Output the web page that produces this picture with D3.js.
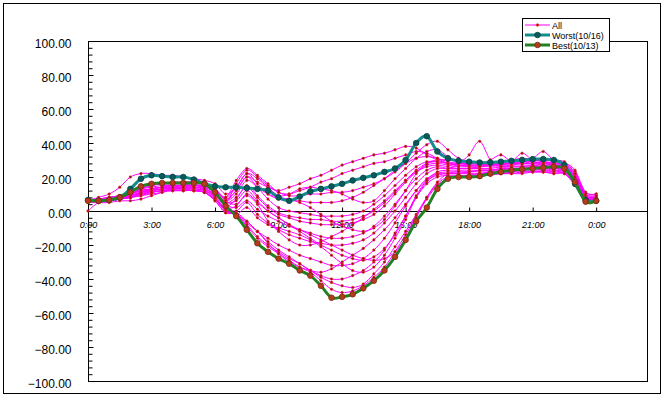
<!DOCTYPE html>
<html>
<head>
<meta charset="utf-8">
<script src="https://cdn.jsdelivr.net/npm/d3@7"></script>
<style>
  body { margin: 0; background: #fff; }
  text { font-family: Arial, "Liberation Sans", sans-serif; }
</style>
</head>
<body>
<div class="chart"></div>
<script>
// time of day in hours, one reading every 30 minutes
var hours = [0,0.5,1,1.5,2,2.5,3,3.5,4,4.5,5,5.5,
  6,6.5,7,7.5,8,8.5,9,9.5,10,10.5,11,11.5,
  12,12.5,13,13.5,14,14.5,15,15.5,16,16.5,17,17.5,
  18,18.5,19,19.5,20,20.5,21,21.5,22,22.5,23,23.5,24];

var xTickValues = [0,3,6,9,12,15,18,21,24];
var xTickLabels = ["0:00","3:00","6:00","9:00","12:00","15:00","18:00","21:00","0:00"];
var yTickValues = [-100,-80,-60,-40,-20,0,20,40,60,80,100];

var worst = [6.5,6,6.5,8,13,19,21,20.5,20,20,18.5,16,
  14.5,14,14,13.5,13,12,8,6,8.5,11.5,13,14.5,
  16,18,19.5,21,23,25,30,40,44,35,31,29.5,
  29,28.5,28.5,29,29.5,30,30.5,30.5,30,27,16,6.5,6];

var best = [6,6,6.5,8,11,14.5,16,16.5,16.5,16.5,16.5,16,
  11,3,-3,-11,-19,-24,-28,-31,-35,-38,-44,-51,
  -50.5,-49,-45.5,-41,-35,-27,-17,-6,2,13,19,20,
  20,20.5,22,23,24,24.5,25,25.5,26,25,17,5.5,6];

// every other day ("All")
var allDays = [
  [6,7,8,9,11,13,14,15,15,15,14,13, 10,6,12,20,17,14,12,14,16,19,21,24,
   27,29,31,33,34,36,38,37,33,30,28,27, 27,27,28,28,29,34,30,30,29,27,20,9, 8],
  [6,6,7,9,12,15,16,16,16,17,17,16, 13,8,18,25,21,16,11,10,12,14,17,19,
   22,24,26,28,29,31,33,35,34,31,28,27, 26,26,27,27,28,28,28,29,28,26,18,8, 7],
  [6,8,10,14,20,22,22,21,21,20,19,18, 16,10,14,22,19,14,9,10,13,14,13,12,
   10,7,5,6,12,19,25,31,35,36,32,29, 28,28,30,33,29,29,30,29,28,27,22,10, 9],
  [6,6,7,8,9,11,12,13,13,13,13,12, 9,5,16,24,20,15,11,9,9,10,10,11,
   11,12,14,16,19,23,28,34,39,41,36,31, 29,28,28,28,29,30,30,29,28,28,24,11, 10],
  [7,7,8,9,10,12,13,14,14,15,15,14, 11,6,10,18,14,10,8,7,5,2,-2,-6,
   -9,-11,-12,-10,-5,3,12,22,28,30,30,29, 28,28,27,28,28,29,29,28,28,27,23,9, 8],
  [6,6,6,7,9,11,13,14,15,15,15,14, 12,7,12,20,14,7,2,0,-1,-2,-3,-3,
   -3,-2,0,4,9,15,21,26,29,29,28,27, 27,27,27,28,28,28,29,28,27,26,20,8, 7],
  [6,5,5,6,6,7,9,11,13,14,15,15, 11,3,7,15,9,3,-1,-3,-4,-5,-5,-6,
   -6,-5,-3,0,5,11,18,24,28,29,28,28, 27,27,27,27,28,28,28,28,27,26,22,11, 10],
  [6,6,7,8,10,13,15,16,16,16,15,14, 11,5,8,14,8,2,-2,-4,-6,-7,-8,-8,
   -8,-7,-5,-2,3,10,17,23,27,28,27,26, 26,26,27,27,27,28,28,27,27,26,21,9, 8],
  [5,5,6,7,9,11,13,14,15,15,15,15, 12,6,4,9,4,-6,-12,-17,-20,-20,-18,-15,
   -12,-8,-4,1,6,12,18,23,26,27,26,25, 25,26,26,26,27,27,27,27,26,25,19,8, 7],
  [0,5,6,7,8,10,12,13,14,14,14,13, 10,4,2,6,1,-3,-6,-9,-11,-13,-15,-16,
   -16,-15,-13,-9,-3,4,12,19,24,26,25,25, 25,25,25,26,26,26,27,26,26,25,20,9, 8],
  [6,7,8,9,10,12,13,14,14,14,14,13, 9,3,0,5,-2,-7,-11,-14,-16,-18,-19,-20,
   -20,-19,-17,-13,-7,0,8,16,22,25,25,28, 33,41,30,26,26,26,26,26,25,25,19,8, 7],
  [6,6,7,8,9,11,12,13,13,13,13,12, 8,2,3,10,5,0,-4,-8,-12,-16,-20,-23,
   -26,-28,-29,-27,-22,-14,-3,9,18,23,24,24, 24,24,24,25,25,25,25,25,25,24,18,7, 6],
  [6,6,6,7,8,10,11,12,13,13,13,12, 8,1,-2,2,-4,-8,-10,-12,-14,-17,-21,-26,
   -31,-35,-36,-33,-26,-16,-5,8,17,22,23,23, 23,24,24,24,25,25,25,25,24,24,18,8, 7],
  [6,6,7,8,9,10,11,12,12,12,12,11, 7,0,-2,-7,-12,-16,-20,-23,-26,-28,-30,-32,
   -32,-31,-28,-23,-16,-7,3,12,19,22,22,22, 23,23,23,24,24,24,25,24,24,23,17,8, 7],
  [6,7,7,8,9,11,12,13,13,13,12,11, 7,1,-2,-6,-12,-19,-25,-30,-33,-35,-36,-34,
   -30,-26,-22,-17,-11,-4,4,12,18,21,22,22, 22,22,23,23,23,24,24,24,23,23,17,7, 6],
  [6,6,6,7,8,9,10,11,12,12,12,11, 7,0,-2,-8,-15,-20,-24,-28,-31,-35,-38,-40,
   -40,-38,-35,-30,-23,-13,-3,8,16,20,21,21, 21,22,22,22,23,23,23,23,23,22,16,7, 6],
  [6,6,6,7,8,9,11,12,12,12,12,11, 6,-1,-1,-6,-12,-18,-23,-27,-31,-35,-39,-42,
   -44,-45,-43,-37,-30,-21,-12,-2,8,16,20,20, 21,21,22,22,22,23,23,23,22,22,16,7, 6],
  [6,6,7,7,8,10,11,12,12,12,12,11, 6,-1,-2,-9,-16,-21,-25,-29,-33,-36,-41,-46,
   -48,-47,-44,-39,-33,-24,-14,-3,7,15,19,20, 20,21,21,22,22,22,23,23,22,22,15,6, 6],
  [6,6,7,8,10,12,13,14,14,14,14,13, 10,5,6,12,6,0,-4,-8,-11,-14,-17,-20,
   -23,-26,-28,-29,-28,-24,-16,-4,8,17,22,23, 23,24,24,25,25,25,26,26,25,25,20,9, 8],
  [6,6,7,8,10,13,15,16,17,17,17,16, 13,8,14,22,16,10,7,6,6,5,5,5,
   6,8,11,15,19,24,28,31,32,31,29,28, 28,28,29,29,30,31,31,35,30,29,22,10, 9]
];

var seriesNames = ["All", "Worst(10/16)", "Best(10/13)"];

var svgWidth = 665;
var svgHeight = 398;

var svg = d3.select(".chart")
  .append("svg")
  .attr("width", svgWidth)
  .attr("height", svgHeight);

// outer frame
svg.append("rect")
  .attr("x", 3.5).attr("y", 3.5)
  .attr("width", 657).attr("height", 390)
  .attr("fill", "#fff")
  .attr("stroke", "#000");

// scales (x axis runs to 1.1 days like the original)
var xScale = d3.scaleLinear().domain([0, 26.4]).range([88, 647]);
var yScale = d3.scaleLinear().domain([-100, 100]).range([381, 41]);

// plot area
svg.append("rect")
  .attr("x", 88.5).attr("y", 41.5)
  .attr("width", 647 - 88).attr("height", 381 - 41)
  .attr("fill", "#fff")
  .attr("stroke", "#000");

// y axis: minor ticks, then major ticks with labels
var minorTicks = d3.range(-100, 101, 4);
svg.append("g")
  .attr("transform", "translate(88.5,0)")
  .call(d3.axisLeft(yScale).tickValues(minorTicks).tickSize(-4).tickFormat(""))
  .call(g => g.select(".domain").remove());

var yAxis = svg.append("g")
  .attr("transform", "translate(88.5,0)")
  .call(d3.axisLeft(yScale).tickValues(yTickValues).tickSize(-5).tickPadding(17)
    .tickFormat(d3.format(".2f")));
yAxis.select(".domain").remove();
yAxis.selectAll("text")
  .attr("font-size", 12)
  .attr("font-family", "Arial, 'Liberation Sans', sans-serif")
  .attr("dy", "0.5em")
  .attr("fill", "#000");

// x axis across y = 0
var xAxis = svg.append("g")
  .attr("transform", "translate(0," + (yScale(0) + 0.5) + ")")
  .call(d3.axisBottom(xScale).tickValues(xTickValues).tickSize(-4).tickPadding(10)
    .tickFormat((d, i) => xTickLabels[i]));
xAxis.select(".domain").attr("d", "M88.5,0H647");
xAxis.selectAll("text")
  .attr("font-size", 9)
  .attr("font-style", "italic")
  .attr("font-family", "Arial, 'Liberation Sans', sans-serif")
  .attr("fill", "#000");

// line generator
var line = d3.line()
  .x((d, i) => xScale(hours[i]))
  .y(d => yScale(d))
  .curve(d3.curveCatmullRom.alpha(0));

var plot = svg.append("g");

// all days
allDays.forEach(function (vals) {
  plot.append("path")
    .attr("d", line(vals))
    .attr("fill", "none")
    .attr("stroke", "#ff00ff")
    .attr("stroke-width", 1);
  plot.selectAll(null)
    .data(vals)
    .enter()
    .append("circle")
    .attr("cx", (d, i) => xScale(hours[i]))
    .attr("cy", d => yScale(d))
    .attr("r", 1.3)
    .attr("fill", "#8b1010")
    .attr("stroke", "#ff3030")
    .attr("stroke-width", 0.5);
});

// worst and best days
function drawBold(vals, color, mFill, mStroke) {
  plot.append("path")
    .attr("d", line(vals))
    .attr("fill", "none")
    .attr("stroke", color)
    .attr("stroke-width", 3);
  plot.selectAll(null)
    .data(vals)
    .enter()
    .append("circle")
    .attr("cx", (d, i) => xScale(hours[i]))
    .attr("cy", d => yScale(d))
    .attr("r", 2.8)
    .attr("fill", mFill)
    .attr("stroke", mStroke)
    .attr("stroke-width", 0.8);
}
drawBold(worst, "#148c8c", "#0b5a5a", "#004444");
drawBold(best, "#238023", "#b33d1a", "#7a2a10");

// legend
var legend = svg.append("g");
legend.append("rect")
  .attr("x", 522.5).attr("y", 18.5)
  .attr("width", 87).attr("height", 33)
  .attr("fill", "#fff")
  .attr("stroke", "#000");

var legendStyles = [
  {color: "#ff00ff", width: 1, r: 1.3, fill: "#8b1010", stroke: "#ff3030"},
  {color: "#148c8c", width: 3, r: 2.8, fill: "#0b5a5a", stroke: "#004444"},
  {color: "#238023", width: 3, r: 2.8, fill: "#b33d1a", stroke: "#7a2a10"}
];

seriesNames.forEach(function (name, i) {
  var yy = 25 + i * 10;
  var s = legendStyles[i];
  legend.append("line")
    .attr("x1", 525).attr("x2", 550)
    .attr("y1", yy).attr("y2", yy)
    .attr("stroke", s.color)
    .attr("stroke-width", s.width);
  legend.append("circle")
    .attr("cx", 537.5).attr("cy", yy)
    .attr("r", s.r)
    .attr("fill", s.fill)
    .attr("stroke", s.stroke)
    .attr("stroke-width", 0.8);
  legend.append("text")
    .attr("x", 552).attr("y", yy + 3.5)
    .attr("font-size", 9)
    .attr("fill", "#000")
    .text(name);
});
</script>
</body>
</html>
